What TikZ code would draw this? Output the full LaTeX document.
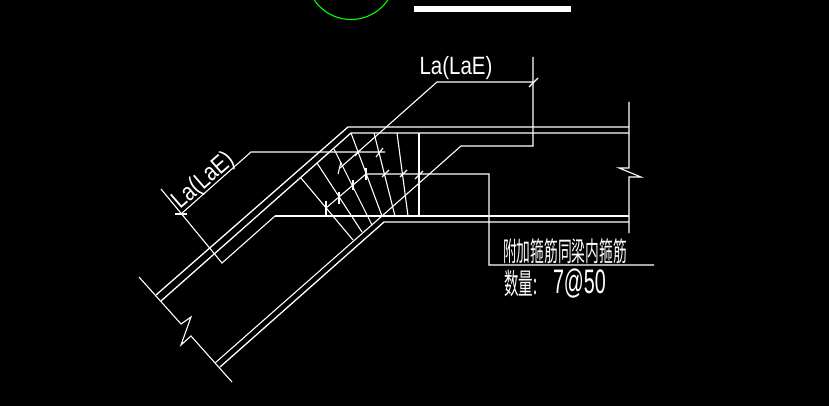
\documentclass[tikz,border=0pt]{standalone}
\usepackage{fontspec}
\setmainfont{Liberation Sans}
\newfontfamily\cjkf{Noto Sans CJK SC}
\tikzset{
  cad/.style={draw=white,line width=1.1pt,line join=miter},
  heavy/.style={draw=white,line width=1.3pt},
  tick/.style={draw=white,line width=1.1pt},
  label/.style={text=white,inner sep=0pt,outer sep=0pt},
}
\begin{document}
\begin{tikzpicture}[x=1pt,y=-1pt]
\fill[black] (0,0) rectangle (829,406);
\useasboundingbox (0,0) rectangle (829,406);
\begin{scope}
\clip (0,0) rectangle (829,406);
\draw[draw=green,line width=1.1pt] (351,-25) circle[radius=44.5];
\end{scope}
\fill[white] (414,6) rectangle (571,12);
% beam bars
\draw[heavy] (156,295) -- (348,127) -- (629,127);
\draw[heavy] (161,301) -- (351,133) -- (629,133);
\draw[heavy] (275,216) -- (629,216);
\draw[heavy] (220,367) -- (384,222) -- (629,222);
% lower bar with anchorage
\draw[cad] (215,363) -- (382,216) -- (461,146) -- (533,146) -- (533,57);
% lower-left cut line
\draw[cad] (139,277) -- (181,324) -- (191,317) -- (181,345) -- (191,336) -- (232,382);
% right cut line
\draw[cad] (629,102) -- (629,168) -- (619,168) -- (641,177) -- (629,177) -- (629,233);
% top dimension
\draw[cad] (340,168) -- (437,82) -- (533,82);
\draw[tick] (529,87) -- (538,78);
\draw[tick] (338,174) -- (341,162);
% diagonal dimension
\draw[cad] (161,189) -- (222,263) -- (275,216);
\draw[cad] (181,214) -- (251,152) -- (385,152);
\draw[tick] (175,214) -- (187,214);
\draw[tick] (376,157) -- (383,148);
\draw[tick] (355,156) -- (360,150);
% stirrups
\draw[cad] (301,178) -- (353,240);
\draw[cad] (317,163) -- (362,232);
\draw[cad] (334,149) -- (372,225);
\draw[cad] (351,133) -- (382,216);
\draw[cad] (374,133) -- (395,216);
\draw[cad] (397,133) -- (408,216);
\draw[heavy] (419,133) -- (419,216);
% leader to note
\draw[cad] (326,208) -- (366,174) -- (489,174) -- (489,265) -- (654,265);
\draw[tick] (326,201) -- (326,215);
\draw[tick] (339,192) -- (339,204);
\draw[tick] (353,180) -- (353,190);
\draw[tick] (366,168) -- (366,180);
\draw[tick] (382,177) -- (389,170);
\draw[tick] (400,177) -- (407,170);
\draw[tick] (415,179) -- (423,171);
% text
\node[label,anchor=center] (top) at (456,68) {\fontsize{25}{25}\selectfont\scalebox{0.82}[1]{La(LaE)}};
\node[label,anchor=center,rotate=41] (diag) at (204,181) {\fontsize{25}{25}\selectfont\scalebox{0.82}[1]{La(LaE)}};
\node[label,anchor=center] (note) at (565,251) {\cjkf\fontsize{27}{27}\selectfont\scalebox{0.51}[1]{附加箍筋同梁内箍筋}};
\node[label,anchor=west] (qty) at (504,284) {\cjkf\fontsize{29}{29}\selectfont\scalebox{0.5}[1]{数量:}};
\node[label,anchor=west] (val) at (553,284) {\fontsize{34}{34}\selectfont\scalebox{0.58}[1]{7@50}};
\end{tikzpicture}
\end{document}
